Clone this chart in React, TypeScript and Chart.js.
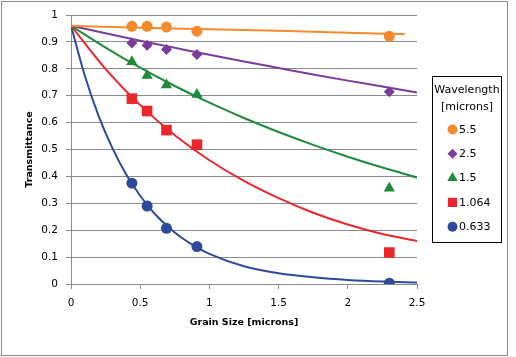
import React, { useEffect, useRef } from 'react';
import { Chart, registerables } from 'chart.js';
import { drawPoint } from 'chart.js/helpers';

Chart.register(...registerables);

// ---------- data ----------
const seriesLabels = ['5.5', '2.5', '1.5', '1.064', '0.633'];
const legendTitle = ['Wavelength', '[microns]'];
const xAxisTitle = 'Grain Size [microns]';
const yAxisTitle = 'Transmittance';

const xTicks = [0, 0.5, 1, 1.5, 2, 2.5];
const xTickLabels = ['0', '0.5', '1', '1.5', '2', '2.5'];
const yTicks = [0, 0.1, 0.2, 0.3, 0.4, 0.5, 0.6, 0.7, 0.8, 0.9, 1];
const yTickLabels = ['0', '0.1', '0.2', '0.3', '0.4', '0.5', '0.6', '0.7', '0.8', '0.9', '1'];

// measured points
const grainSize = [0.44, 0.55, 0.69, 0.91, 2.3];
const t55 = [0.958, 0.958, 0.955, 0.94, 0.921];
const t25 = [0.896, 0.888, 0.872, 0.853, 0.715];
const t15 = [0.826, 0.775, 0.74, 0.704, 0.356];
const t1064 = [0.689, 0.643, 0.572, 0.518, 0.117];
const t0633 = [0.375, 0.29, 0.207, 0.139, 0.003];

// fitted curves
const fit55X = [0, 0.5, 1, 1.5, 2, 2.41];
const fit55 = [0.96, 0.953, 0.947, 0.941, 0.934, 0.929];
const fitX = [0, 0.25, 0.5, 0.75, 1, 1.25, 1.5, 1.75, 2, 2.25, 2.5];
const fit25 = [0.96, 0.932, 0.904, 0.878, 0.852, 0.827, 0.803, 0.779, 0.756, 0.734, 0.712];
const fit15 = [0.96, 0.879, 0.804, 0.736, 0.674, 0.617, 0.565, 0.517, 0.473, 0.433, 0.396];
const fit1064 = [0.96, 0.799, 0.665, 0.553, 0.46, 0.383, 0.319, 0.265, 0.221, 0.186, 0.16];
const fit0633X = [0, 0.1, 0.2, 0.3, 0.4, 0.5, 0.6, 0.7, 0.8, 0.9, 1, 1.25, 1.5, 1.75, 2, 2.25, 2.5];
const fit0633 = [0.96, 0.774, 0.624, 0.504, 0.406, 0.328, 0.264, 0.213, 0.172, 0.139, 0.112, 0.066, 0.04, 0.025, 0.015, 0.009, 0.006];

// ---------- styles ----------
const FONT = "'DejaVu Sans', Verdana, sans-serif";
const colors = ['#F38B2D', '#7A3C9A', '#1F8A3B', '#E8262C', '#2D4A9B'];
const pointStyles = ['circle', 'rectRot', 'triangle', 'rect', 'circle'];
const pointRadii = [5.5, 5.5, 6.5, 7.5, 5.5];
const legendRadii = [5, 5, 6, 6.5, 5];
const gridColor = '#8a8a8a';

const toXY = (xs: number[], ys: number[]) => xs.map((x, i) => ({ x, y: ys[i] }));

const pointSeries = [t55, t25, t15, t1064, t0633];
const fitSeries = [
  [fit55X, fit55],
  [fitX, fit25],
  [fitX, fit15],
  [fitX, fit1064],
  [fit0633X, fit0633],
];

const frameLegendPlugin = {
  id: 'frameLegend',
  beforeDraw(chart: any) {
    const ctx = chart.ctx;
    ctx.save();
    ctx.fillStyle = '#ffffff';
    ctx.fillRect(0, 0, chart.width, chart.height);
    ctx.restore();
  },
  afterDraw(chart: any) {
    const ctx = chart.ctx;
    ctx.save();
    // outer frame
    ctx.strokeStyle = '#8a8a8a';
    ctx.lineWidth = 1;
    ctx.strokeRect(1.5, 1.5, 506, 354);
    // legend box
    ctx.strokeStyle = '#000000';
    ctx.strokeRect(432.5, 76.5, 69, 166);
    ctx.fillStyle = '#000000';
    ctx.font = `11px ${FONT}`;
    ctx.textAlign = 'center';
    ctx.textBaseline = 'middle';
    ctx.fillText(legendTitle[0], 467, 90.5);
    ctx.fillText(legendTitle[1], 467, 107);
    ctx.textAlign = 'left';
    seriesLabels.forEach((label, i) => {
      const y = 129.5 + i * 24.3;
      ctx.fillStyle = colors[i];
      drawPoint(ctx, { pointStyle: pointStyles[i], radius: legendRadii[i], rotation: 0, borderWidth: 0 } as any, 452.5, y);
      ctx.fillStyle = '#000000';
      ctx.fillText(label, 459, y + 0.5);
    });
    ctx.restore();
  },
};

export default function App() {
  const ref = useRef<HTMLCanvasElement>(null);

  useEffect(() => {
    document.body.style.margin = '0';
    if (!ref.current) return;

    const pointDatasets = pointSeries.map((ys, i) => ({
      label: seriesLabels[i],
      data: toXY(grainSize, ys),
      showLine: false,
      pointStyle: pointStyles[i],
      pointRadius: pointRadii[i],
      pointBorderWidth: 0,
      backgroundColor: colors[i],
      borderColor: colors[i],
      order: 0,
    }));
    const lineDatasets = fitSeries.map(([xs, ys], i) => ({
      label: seriesLabels[i] + ' fit',
      data: toXY(xs, ys),
      showLine: true,
      pointRadius: 0,
      borderWidth: 2,
      borderColor: colors[i],
      backgroundColor: colors[i],
      cubicInterpolationMode: 'monotone',
      fill: false,
      order: 1,
    }));

    const tickFont = { family: FONT, size: 10.5 };
    const titleFont = { family: FONT, size: 9.5, weight: 'bold' as const };

    const chart = new Chart(ref.current, {
      type: 'scatter',
      data: { datasets: [...pointDatasets, ...lineDatasets] as any },
      plugins: [frameLegendPlugin],
      options: {
        responsive: false,
        animation: false,
        devicePixelRatio: 1,
        layout: { padding: { left: 0, right: 99, top: 15, bottom: 0 } },
        plugins: { legend: { display: false }, tooltip: { enabled: false } },
        scales: {
          x: {
            type: 'linear',
            min: 0,
            max: 2.5,
            afterBuildTicks: (s: any) => {
              s.ticks = xTicks.map((v) => ({ value: v }));
            },
            afterFit: (s: any) => {
              s.height = 73;
            },
            grid: { drawOnChartArea: false, color: gridColor, tickLength: 5 },
            border: { color: gridColor },
            ticks: {
              color: '#000',
              font: tickFont,
              padding: 8,
              maxRotation: 0,
              autoSkip: false,
              callback: (_v: any, i: number) => xTickLabels[i],
            },
            title: {
              display: true,
              text: xAxisTitle,
              color: '#000',
              font: titleFont,
              padding: { top: 0, bottom: 29 },
            },
          },
          y: {
            type: 'linear',
            min: 0,
            max: 1,
            afterBuildTicks: (s: any) => {
              s.ticks = yTicks.map((v) => ({ value: v }));
            },
            afterFit: (s: any) => {
              s.width = 71;
            },
            grid: { color: gridColor, tickLength: 5 },
            border: { color: gridColor },
            ticks: {
              color: '#000',
              font: tickFont,
              padding: 8,
              autoSkip: false,
              callback: (_v: any, i: number) => yTickLabels[i],
            },
            title: {
              display: true,
              text: yAxisTitle,
              color: '#000',
              font: titleFont,
              padding: { top: 24, bottom: 0 },
            },
          },
        },
      } as any,
    });
    return () => chart.destroy();
  }, []);

  return (
    <div style={{ width: 516, height: 357 }}>
      <canvas ref={ref} width={516} height={357} style={{ display: 'block' }} />
    </div>
  );
}
